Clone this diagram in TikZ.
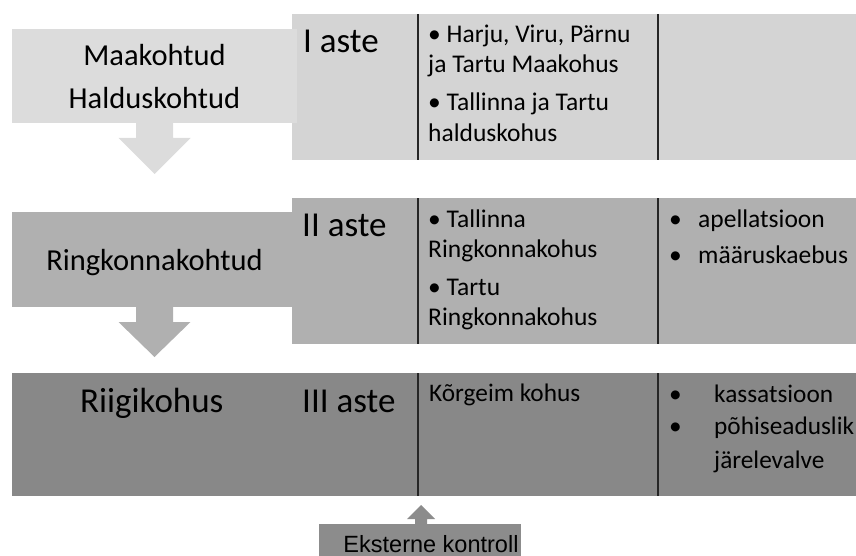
\documentclass[tikz,border=0pt]{standalone}
\usepackage{fontspec}
\setmainfont{Carlito}
\newfontfamily\arialfont{Liberation Sans}
\usetikzlibrary{calc}
\definecolor{hell}{HTML}{D4D4D4}
\definecolor{hellbox}{HTML}{DCDCDC}
\definecolor{mittel}{HTML}{B0B0B0}
\definecolor{dunkel}{HTML}{888888}
\definecolor{extern}{HTML}{8C8C8C}
\tikzset{
  kasten/.style={inner sep=0pt, outer sep=0pt},
  gericht/.style={anchor=base, inner sep=0pt, font=\fontsize{30.5}{36}\selectfont},
  stufe/.style={anchor=base west, inner sep=0pt, font=\fontsize{35}{42}\selectfont},
  zeile/.style={anchor=base west, inner sep=0pt, font=\fontsize{25.5}{30}\selectfont},
  klein/.style={anchor=base west, inner sep=0pt, font=\fontsize{25.3}{30}\selectfont},
  trenn/.style={line width=1.2pt, draw=black!85},
}
\begin{document}
\begin{tikzpicture}[x=1pt,y=-1pt]
  \useasboundingbox (0,0) rectangle (856,556);
  % I aste
  \node[kasten, fill=hell, minimum width=564pt, minimum height=146pt] (stufe1) at (574,87) {};
  \node[kasten, fill=hellbox, minimum width=285pt, minimum height=94pt] (maa) at (154.5,76) {};
  \fill[hellbox] ($(maa.south)+(-18.5,0)$) -- ++(0,15) -- ++(-17.5,0) -- ++(36,36)
    -- ++(36,-36) -- ++(-17.5,0) -- ++(0,-15) -- cycle;
  \node[gericht] (maatxt) at (154.5,66) {Maakohtud};
  \node[gericht] (haltxt) at (154.5,109) {Halduskohtud};
  \node[stufe] (aste1) at (303,53) {I aste};
  \draw[trenn] (418,14) -- (418,160);
  \draw[trenn] (658,14) -- (658,160);
  \node[zeile] (harju) at (428,43) {• Harju, Viru, Pärnu};
  \node[zeile] (harju2) at (428,73) {ja Tartu Maakohus};
  \node[zeile] (hald) at (428,111) {• Tallinna ja Tartu};
  \node[zeile] (hald2) at (428,142) {halduskohus};
  % II aste
  \node[kasten, fill=mittel, minimum width=564pt, minimum height=146pt] (stufe2) at (574,271) {};
  \node[kasten, fill=mittel, minimum width=285pt, minimum height=95pt] (ring) at (154.5,259.5) {};
  \fill[mittel] ($(ring.south)+(-18.5,0)$) -- ++(0,15) -- ++(-17.5,0) -- ++(36,35)
    -- ++(36,-35) -- ++(-17.5,0) -- ++(0,-15) -- cycle;
  \node[gericht] (ringtxt) at (154.5,270) {Ringkonnakohtud};
  \node[stufe] (aste2) at (302,236) {II aste};
  \draw[trenn] (418,198) -- (418,344);
  \draw[trenn] (658,198) -- (658,344);
  \node[zeile] (tall) at (428,227) {• Tallinna};
  \node[zeile] (tall2) at (428,257) {Ringkonnakohus};
  \node[zeile] (tart) at (428,295) {• Tartu};
  \node[zeile] (tart2) at (428,325) {Ringkonnakohus};
  \node[zeile] (pkt1) at (669,227) {•};
  \node[zeile] (apell) at (698,227) {apellatsioon};
  \node[zeile] (pkt2) at (669,263) {•};
  \node[zeile] (maarus) at (698,263) {määruskaebus};
  % III aste
  \node[kasten, fill=dunkel, minimum width=844pt, minimum height=123pt] (stufe3) at (434,434.5) {};
  \node[stufe] (riigi) at (80,412) {Riigikohus};
  \node[stufe] (aste3) at (302,412) {III aste};
  \draw[trenn] (418,373) -- (418,496);
  \draw[trenn] (658,373) -- (658,496);
  \node[klein] (korg) at (429,401) {Kõrgeim kohus};
  \node[klein] (pkt3) at (669,402) {•};
  \node[klein] (kass) at (714,402) {kassatsioon};
  \node[klein] (pkt4) at (669,434) {•};
  \node[klein] (pohi) at (714,434) {põhiseaduslik};
  \node[klein] (pohi2) at (714,468) {järelevalve};
  % Kontrolle von aussen
  \node[kasten, fill=extern, minimum width=202pt, minimum height=34pt] (ext) at (420,541) {};
  \fill[extern] ($(ext.north)+(7,0)$) -- ++(0,-5) -- ++(8,0) -- ++(-14,-14)
    -- ++(-14,14) -- ++(8,0) -- ++(0,5) -- cycle;
  \node[anchor=base, inner sep=0pt, font=\arialfont\fontsize{23.5}{28}\selectfont] (exttxt) at (431,552) {Eksterne kontroll};
\end{tikzpicture}
\end{document}
